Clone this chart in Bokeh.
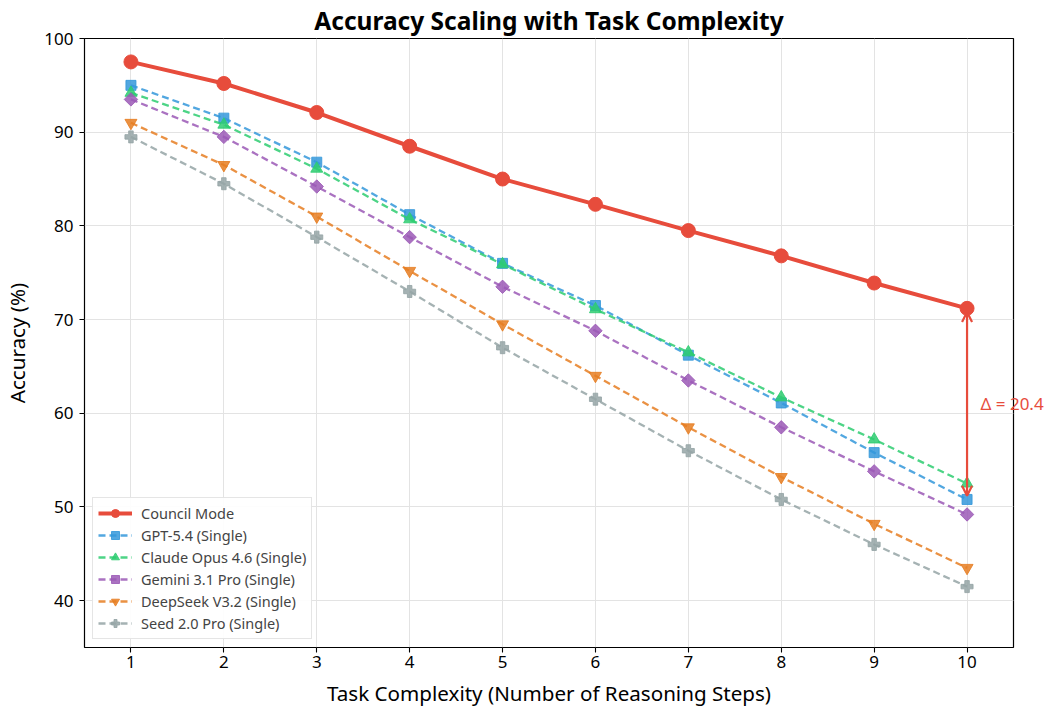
from bokeh.plotting import figure
from bokeh.models import (Range1d, Legend, LegendItem, Arrow, OpenHead, FixedTicker,
                          ColumnDataSource, LinearAxis)
from bokeh.embed import file_html
from bokeh.resources import INLINE

steps = [1, 2, 3, 4, 5, 6, 7, 8, 9, 10]
council = [97.5, 95.2, 92.1, 88.5, 85.0, 82.3, 79.5, 76.8, 73.9, 71.2]
gpt = [95.0, 91.5, 86.8, 81.2, 76.0, 71.5, 66.2, 61.1, 55.8, 50.8]
claude = [94.2, 90.8, 86.1, 80.7, 75.9, 71.1, 66.5, 61.7, 57.2, 52.5]
gemini = [93.5, 89.5, 84.2, 78.8, 73.5, 68.8, 63.5, 58.5, 53.8, 49.2]
deepseek = [91.0, 86.5, 81.0, 75.2, 69.5, 64.0, 58.5, 53.2, 48.2, 43.5]
seed = [89.5, 84.5, 78.8, 73.0, 67.0, 61.5, 56.0, 50.8, 46.0, 41.5]
y_ticks = [40, 50, 60, 70, 80, 90, 100]

names = ["Council Mode", "GPT-5.4 (Single)", "Claude Opus 4.6 (Single)",
         "Gemini 3.1 Pro (Single)", "DeepSeek V3.2 (Single)", "Seed 2.0 Pro (Single)"]
series = [council, gpt, claude, gemini, deepseek, seed]
colors = ["#e74c3c", "#3498db", "#2ecc71", "#9b59b6", "#e67e22", "#95a5a6"]
markers = ["circle", "square", "triangle", "square", "inverted_triangle", "plus"]
angles = [0, 0, 0, 0.785398, 0, 0]
msizes = [14, 10, 12, 9.5, 12, 12]

FONT = "Noto Sans"

p = figure(width=1047, height=711, output_backend="svg", toolbar_location=None,
           x_range=Range1d(0.5, 10.5), y_range=Range1d(35, 100),
           min_border_left=84, min_border_right=34, min_border_top=38, min_border_bottom=64,
           title="Accuracy Scaling with Task Complexity")
p.title.align = "center"
p.title.text_font = FONT
p.title.text_font_size = "24.5px"
p.title.text_font_style = "bold"
p.title.text_color = "black"
p.title.standoff = 3

p.outline_line_color = "black"
p.outline_line_width = 1.2
p.background_fill_color = "white"
p.border_fill_color = "white"

for ax in (p.xaxis, p.yaxis):
    ax.axis_line_color = None
    ax.major_tick_line_color = "black"
    ax.major_tick_line_width = 1.1
    ax.major_tick_out = 5
    ax.major_tick_in = 0
    ax.minor_tick_line_color = None
    ax.major_label_text_font = FONT
    ax.major_label_text_font_size = "17px"
    ax.major_label_text_color = "black"
    ax.axis_label_text_font = FONT
    ax.axis_label_text_font_size = "20.6px"
    ax.axis_label_text_font_style = "normal"
    ax.axis_label_text_color = "black"

p.xaxis.ticker = FixedTicker(ticks=steps)
p.yaxis.ticker = FixedTicker(ticks=y_ticks)
p.xaxis.major_label_standoff = 3
p.xaxis.axis_label_standoff = 8
p.yaxis.major_label_standoff = 6
p.yaxis.axis_label_standoff = 10
p.xaxis.axis_label = "Task Complexity (Number of Reasoning Steps)"
p.yaxis.axis_label = "Accuracy (%)"

p.xgrid.grid_line_color = "#e3e3e3"
p.ygrid.grid_line_color = "#e3e3e3"

items = []
for i, (name, ys, c, m, a, s) in enumerate(zip(names, series, colors, markers, angles, msizes)):
    src = ColumnDataSource(dict(x=steps, y=ys))
    if i == 0:
        ln = p.line("x", "y", source=src, line_color=c, line_width=4)
        sc = p.scatter("x", "y", source=src, marker=m, size=s, fill_color=c, line_color=c)
    else:
        ln = p.line("x", "y", source=src, line_color=c, line_width=2.3, line_dash="7 4", line_alpha=0.85)
        sc = p.scatter("x", "y", source=src, marker=m, size=s, angle=a,
                       fill_color=c, line_color=c, fill_alpha=0.85, line_alpha=0.85)
    items.append(LegendItem(label=name, renderers=[ln, sc]))

legend = Legend(items=items, location="bottom_left")
legend.label_text_font = FONT
legend.label_text_font_size = "14.5px"
legend.label_height = 20
legend.glyph_height = 20
legend.glyph_width = 34
legend.label_standoff = 9
legend.spacing = 2
legend.padding = 5
legend.margin = 8
legend.border_line_color = "#cccccc"
legend.border_line_width = 1
legend.background_fill_alpha = 0.9
p.add_layout(legend)

delta = council[-1] - gpt[-1]
mid = (council[-1] + gpt[-1]) / 2
arrow = Arrow(x_start=steps[-1], y_start=gpt[-1] + 0.4, x_end=steps[-1], y_end=council[-1] - 0.4,
              line_color=colors[0], line_width=2.2,
              start=OpenHead(size=10, line_color=colors[0], line_width=2.2),
              end=OpenHead(size=10, line_color=colors[0], line_width=2.2))
p.add_layout(arrow)

# delta label as a right-side axis tick label so it can extend past the frame
dax = LinearAxis(ticker=FixedTicker(ticks=[mid], minor_ticks=[]),
                 major_label_overrides={mid: f"Δ = {delta:.1f}"})
dax.axis_line_color = None
dax.major_tick_line_color = None
dax.minor_tick_line_color = None
dax.major_tick_out = 0
dax.major_tick_in = 0
dax.major_label_standoff = -33
dax.major_label_text_color = colors[0]
dax.major_label_text_font = FONT
dax.major_label_text_font_size = "17px"
p.add_layout(dax, "right")

open("out.html", "w").write(file_html(p, INLINE))
